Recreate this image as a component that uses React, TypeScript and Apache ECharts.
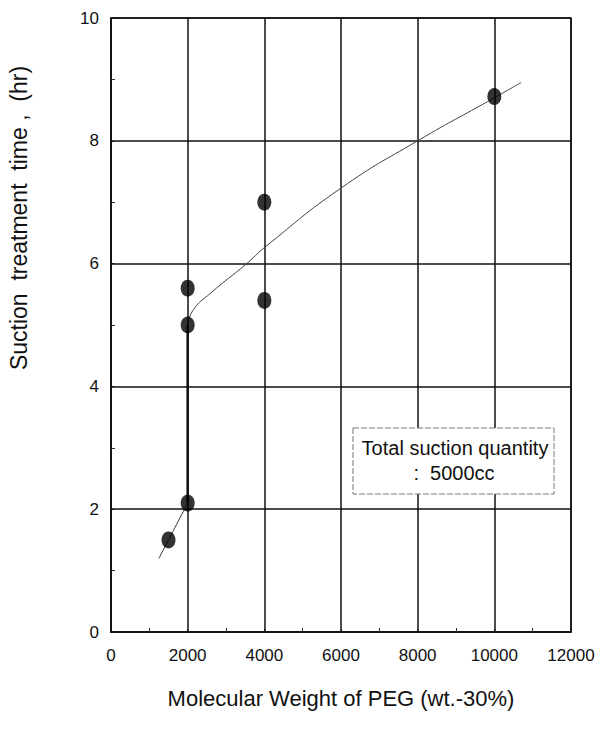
import React, { useEffect, useRef } from "react";
import * as echarts from "echarts";

const xTicks = [0, 2000, 4000, 6000, 8000, 10000, 12000];
const yTicks = [0, 2, 4, 6, 8, 10];

// measured points: [molecular weight, suction time (hr)]
const pointsX = [1500, 2000, 2000, 2000, 4000, 4000, 10000];
const pointsY = [1.5, 2.1, 5.0, 5.6, 5.4, 7.0, 8.72];

// fitted curve, lower part
const lowX = [1250, 1500, 1750, 2000];
const lowY = [1.2, 1.5, 1.8, 2.1];
// vertical jump at 2000
const jumpX = [2000, 2000];
const jumpY = [2.1, 5.0];
// upper part
const upX = [2000, 2150, 2600, 3540, 4000, 6000, 8000, 10000, 10700];
const upY = [5.0, 5.25, 5.52, 6.0, 6.26, 7.23, 8.0, 8.7, 8.95];

const zip = (a: number[], b: number[]) => a.map((v, i) => [v, b[i]]);

const FONT = "'Liberation Sans', Arial, sans-serif";

export default function App() {
  const ref = useRef<HTMLDivElement>(null);
  useEffect(() => {
    document.body.style.margin = "0";
    const chart = echarts.init(ref.current!, null, { renderer: "svg" });
    chart.setOption({
      animation: false,
      backgroundColor: "#ffffff",
      grid: { left: 111, right: 27, top: 18, bottom: 108, show: true, borderColor: "#111", borderWidth: 1.5 },
      xAxis: {
        type: "value",
        min: xTicks[0],
        max: xTicks[xTicks.length - 1],
        interval: 2000,
        name: "Molecular Weight of PEG (wt.-30%)",
        nameLocation: "middle",
        nameGap: 55,
        nameTextStyle: { fontFamily: FONT, fontSize: 22, color: "#111" },
        axisLine: { show: true, lineStyle: { color: "#111", width: 1.5 } },
        axisTick: { show: true, inside: true, length: 3, lineStyle: { color: "#111" } },
        minorTick: { show: true, splitNumber: 2, length: 4, lineStyle: { color: "#333", width: 1 } },
        axisLabel: { fontFamily: FONT, fontSize: 17, color: "#111", margin: 15, formatter: (v: number) => String(v) },
        splitLine: { show: true, lineStyle: { color: "#111", width: 1.5 } },
      },
      yAxis: {
        type: "value",
        min: yTicks[0],
        max: yTicks[yTicks.length - 1],
        interval: 2,
        axisLine: { show: true, lineStyle: { color: "#111", width: 1.5 } },
        axisTick: { show: true, inside: true, length: 3, lineStyle: { color: "#111" } },
        minorTick: { show: true, splitNumber: 2, length: 4, lineStyle: { color: "#333", width: 1 } },
        axisLabel: { fontFamily: FONT, fontSize: 17, color: "#111", margin: 12, formatter: (v: number) => String(v) },
        splitLine: { show: true, lineStyle: { color: "#111", width: 1.5 } },
      },
      graphic: [
        {
          type: "text",
          x: 19,
          y: 218,
          rotation: Math.PI / 2,
          style: {
            text: "Suction  treatment  time ,  (hr)",
            fontFamily: FONT,
            fontSize: 23,
            fill: "#111",
            align: "center",
            verticalAlign: "middle",
          },
        },
        {
          type: "rect",
          shape: { x: 353, y: 428, width: 201, height: 66 },
          style: { fill: "#fff", stroke: "#777", lineWidth: 1, lineDash: [6, 2] },
          z: 100,
        },
        {
          type: "text",
          x: 455,
          y: 448,
          z: 101,
          style: { text: "Total suction quantity", fontFamily: FONT, fontSize: 20, fill: "#111", align: "center", verticalAlign: "middle" },
        },
        {
          type: "text",
          x: 454,
          y: 473,
          z: 101,
          style: { text: ":  5000cc", fontFamily: FONT, fontSize: 20, fill: "#111", align: "center", verticalAlign: "middle" },
        },
      ],
      series: [
        {
          type: "line",
          data: zip(lowX, lowY),
          showSymbol: false,
          smooth: true,
          lineStyle: { color: "#333", width: 1 },
          z: 3,
        },
        {
          type: "line",
          data: zip(jumpX, jumpY),
          showSymbol: false,
          lineStyle: { color: "#111", width: 2.5 },
          z: 3,
        },
        {
          type: "line",
          data: zip(upX, upY),
          showSymbol: false,
          smooth: 0.5,
          lineStyle: { color: "#444", width: 1 },
          z: 3,
        },
        {
          type: "scatter",
          data: zip(pointsX, pointsY),
          symbol: "circle",
          symbolSize: [14, 17],
          itemStyle: { color: "#000" },
          z: 5,
        },
      ],
    });
    return () => chart.dispose();
  }, []);
  return <div ref={ref} style={{ position: "fixed", left: 0, top: 0, width: 598, height: 740 }} />;
}
